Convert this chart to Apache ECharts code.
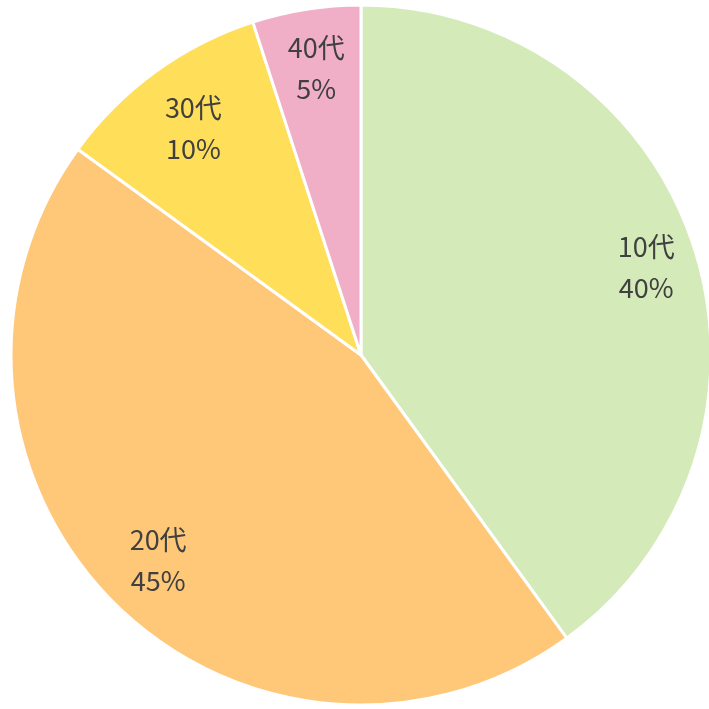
<!DOCTYPE html>
<html><head><meta charset="utf-8">
<script src="https://cdn.jsdelivr.net/npm/echarts@6/dist/echarts.min.js"></script>
<style>html,body{margin:0;padding:0;background:#fff}#c{width:709px;height:709px}</style>
</head><body><div id="c"></div>
<script>
const categories = ['10代', '20代', '30代', '40代'];
const values = [40, 45, 10, 5];
const colors = ['#D4EBB9', '#FFC778', '#FFDE59', '#F0AFC7'];
const labelOffsets = [[116, -33], [-77, 79], [-63, -83], [-17, -111]];

const chart = echarts.init(document.getElementById('c'));
chart.setOption({
  animation: false,
  series: [{
    type: 'pie',
    center: [361, 355],
    radius: [0, 350],
    startAngle: 90,
    clockwise: true,
    itemStyle: { borderColor: '#fff', borderWidth: 3 },
    label: {
      show: true,
      position: 'inside',
      formatter: p => p.name + '\n' + p.value + '%',
      fontFamily: 'Noto Sans CJK JP',
      fontSize: 27,
      lineHeight: 41,
      color: '#404040'
    },
    labelLine: { show: false },
    emphasis: { disabled: true },
    data: categories.map((c, i) => ({
      name: c, value: values[i],
      itemStyle: { color: colors[i] },
      label: { offset: labelOffsets[i] }
    }))
  }]
});
</script></body></html>
